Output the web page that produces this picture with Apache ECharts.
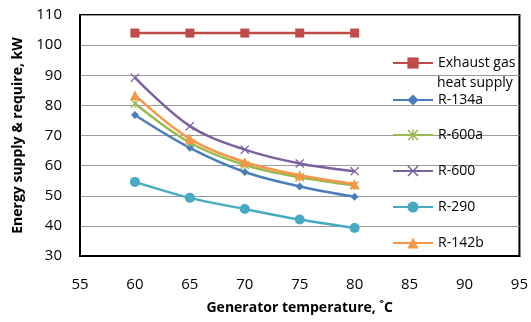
<!DOCTYPE html>
<html>
<head>
<meta charset="utf-8">
<script src="https://cdn.jsdelivr.net/npm/echarts@6/dist/echarts.min.js"></script>
<style>
  html, body { margin: 0; padding: 0; background: #fff; }
  #chart { width: 531px; height: 322px; }
</style>
</head>
<body>
<div id="chart"></div>
<script>
const temps = [60, 65, 70, 75, 80]
const exhaustGas = [104, 104, 104, 104, 104]
const r134a = [76.8, 65.9, 57.9, 53.1, 49.7]
const r600a = [80.6, 67.6, 60.2, 56.1, 53.4]
const r600 = [89.2, 73.1, 65.3, 60.7, 58.1]
const r290 = [54.6, 49.3, 45.6, 42.1, 39.3]
const r142b = [83.4, 68.9, 61.2, 56.8, 53.9]

const seriesNames = ["Exhaust gas heat supply", "R-134a", "R-600a", "R-600", "R-290", "R-142b"]
const seriesValues = [exhaustGas, r134a, r600a, r600, r290, r142b]
const colors = ["#BE4B48", "#4A7EBB", "#98B954", "#7D60A0", "#46AAC5", "#F79646"]

const xMark = "path://M0,1L1,0L5,4L9,0L10,1L6,5L10,9L9,10L5,6L1,10L0,9L4,5Z"
const starMark = xMark + "M4.4,0L5.6,0L5.6,10L4.4,10Z"
const symbols = ["rect", "diamond", starMark, xMark, "circle", "triangle"]
const symbolSizes = [9, 8, 9, 9, 10, 10]

const font = "'Open Sans', 'Noto Sans', sans-serif"
const legendTops = [55, 92, 127, 163, 199, 235]

const chart = echarts.init(document.getElementById("chart"))

const option = {
  backgroundColor: "#fff",
  animation: false,
  textStyle: { fontFamily: font },
  grid: {
    left: 80,
    right: 8,
    top: 15,
    bottom: 66,
    show: true,
    borderColor: "#000",
    borderWidth: 2,
  },
  legend: seriesNames.map((name, i) => ({
    data: [name],
    orient: "vertical",
    left: 392,
    top: legendTops[i],
    padding: 0,
    itemWidth: 40,
    itemHeight: 14,
    itemGap: 0,
    textStyle: { fontSize: 14, color: "#000", fontFamily: font, lineHeight: 16 },
    formatter: (n) => (n === "Exhaust gas heat supply" ? "Exhaust gas" : n),
  })),
  graphic: [
    {
      type: "text",
      left: 437,
      top: 76,
      style: { text: "heat supply", fontSize: 14, fontFamily: font, fill: "#000" },
    },
  ],
  xAxis: {
    type: "value",
    min: 55,
    max: 95,
    interval: 5,
    name: "Generator temperature, ˚C",
    nameLocation: "middle",
    nameGap: 45,
    nameTextStyle: { fontSize: 14, fontWeight: "bold", color: "#000", fontFamily: font },
    axisLine: { show: true, lineStyle: { color: "#000", width: 2 } },
    axisTick: { show: false },
    axisLabel: { fontSize: 15, color: "#000", margin: 21, fontFamily: font },
    splitLine: { show: false },
  },
  yAxis: {
    type: "value",
    min: 30,
    max: 110,
    interval: 10,
    name: "Energy supply & require, kW",
    nameLocation: "middle",
    nameGap: 50,
    nameTextStyle: { fontSize: 14, fontWeight: "bold", color: "#000", fontFamily: font },
    axisLine: { show: true, lineStyle: { color: "#000", width: 2 } },
    axisTick: { show: false },
    axisLabel: { fontSize: 15, color: "#000", margin: 18, fontFamily: font },
    splitLine: { show: true, lineStyle: { color: "#999", width: 1 } },
  },
  series: seriesNames.map((name, i) => ({
    name: name,
    type: "line",
    data: temps.map((t, j) => [t, seriesValues[i][j]]),
    smooth: i === 0 ? false : 0.35,
    symbol: symbols[i],
    symbolSize: symbolSizes[i],
    showAllSymbol: true,
    color: colors[i],
    lineStyle: { width: 2.5, color: colors[i] },
    itemStyle: { color: colors[i] },
    z: i === 5 ? 3 : 2,
  })),
}

chart.setOption(option)
</script>
</body>
</html>
